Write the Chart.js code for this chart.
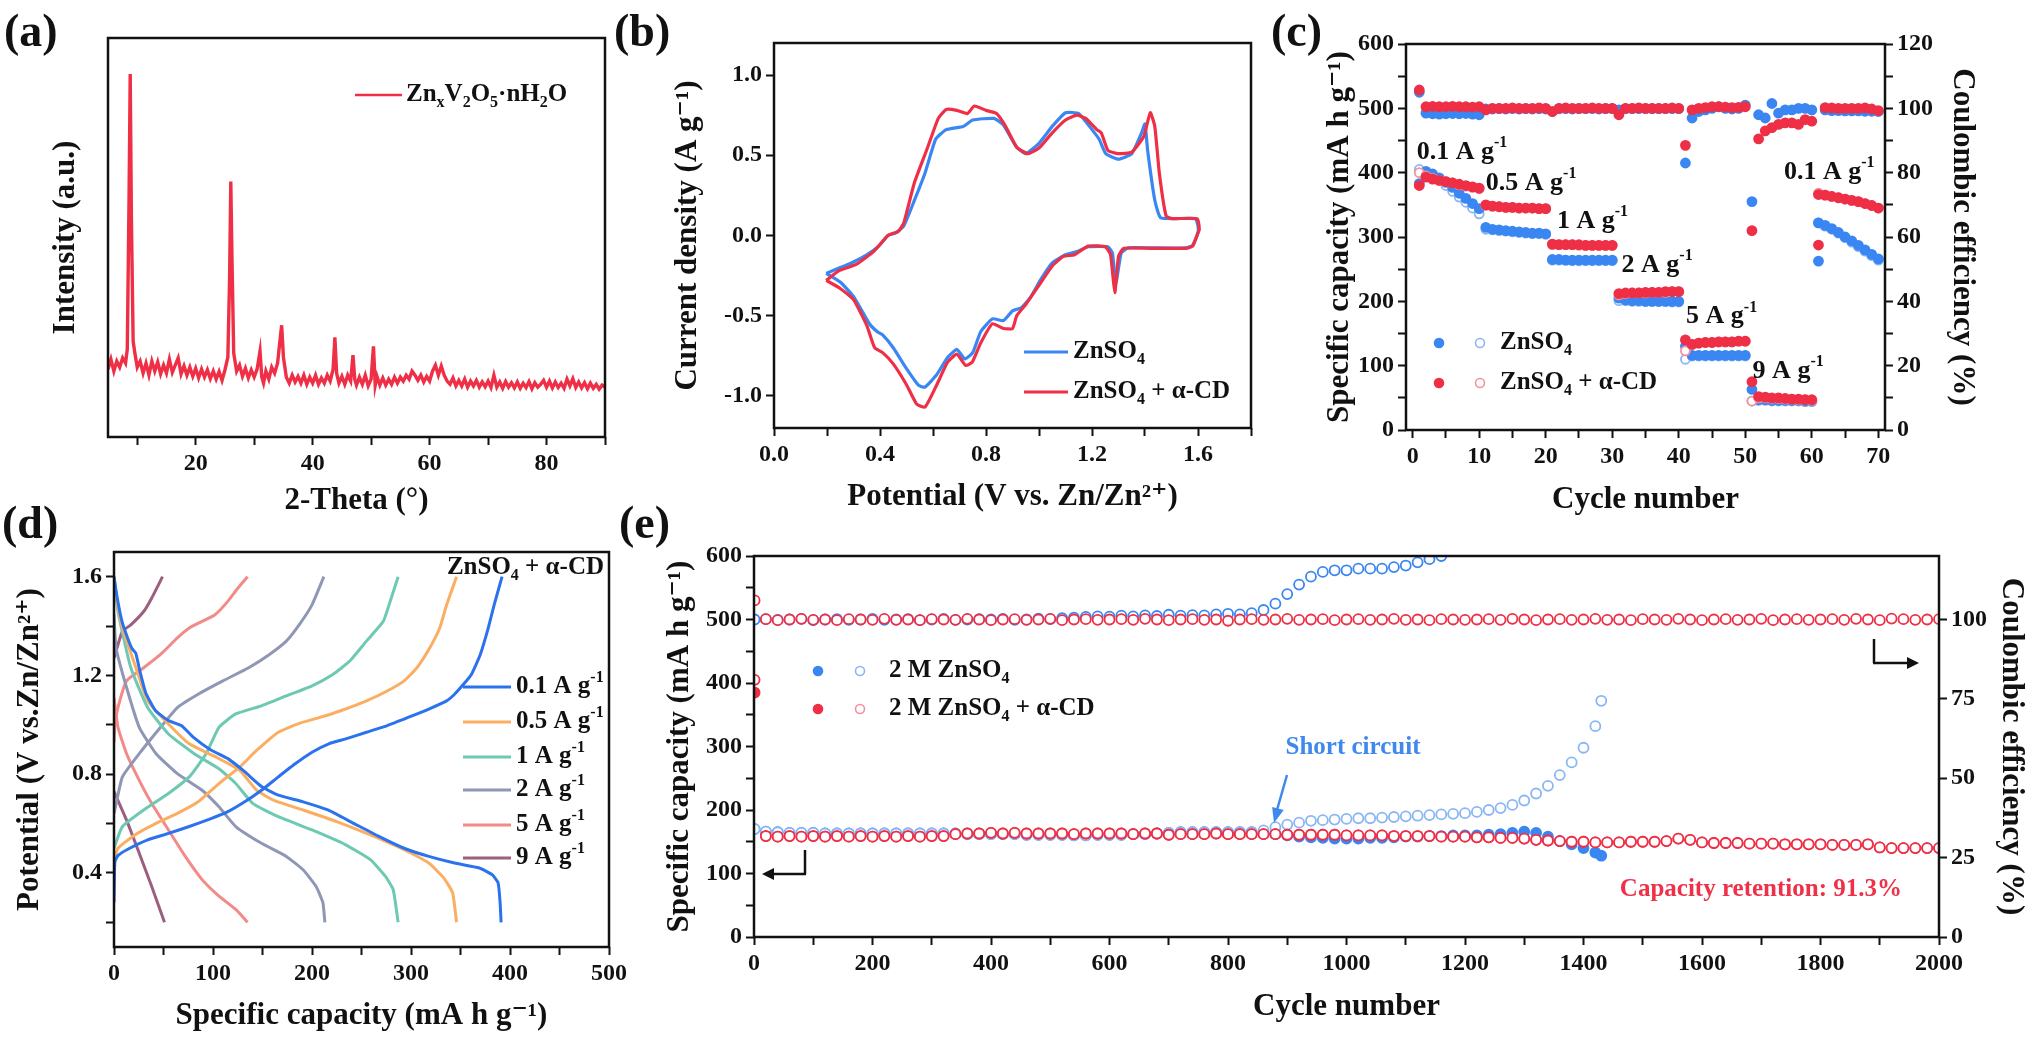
<!DOCTYPE html>
<html>
<head>
<meta charset="utf-8">
<script src="https://cdn.jsdelivr.net/npm/chart.js@4.4.1/dist/chart.umd.min.js"></script>
<style>
  body { margin: 0; background: #fff; }
  #fig { position: relative; width: 2032px; height: 1037px; overflow: hidden; background: #fff; }
  #fig canvas { position: absolute; }
  .tag { position: absolute; font: bold 46px "Liberation Serif", "Times New Roman", serif; line-height: 1; color: #111; }
</style>
</head>
<body>
<div id="fig">
  <canvas id="ca" width="640" height="520" style="left:0;top:0"></canvas>
  <canvas id="cb" width="660" height="520" style="left:640px;top:0"></canvas>
  <canvas id="cc" width="732" height="520" style="left:1300px;top:0"></canvas>
  <canvas id="cd" width="660" height="517" style="left:0;top:520px"></canvas>
  <canvas id="ce" width="1372" height="517" style="left:660px;top:520px"></canvas>
  <div class="tag" style="left:4px;top:8px">(a)</div>
  <div class="tag" style="left:614px;top:8px">(b)</div>
  <div class="tag" style="left:1271px;top:8px">(c)</div>
  <div class="tag" style="left:2px;top:500px">(d)</div>
  <div class="tag" style="left:619px;top:500px">(e)</div>
</div>
<script>
// ---- (a) XRD scan: [2theta, intensity a.u.] ----
const xrdScan = [[5,17],[5.5,19.5],[6,16.5],[6.5,19],[7,17.5],[7.5,19.8],[8,18.5],[8.3,22],[8.6,60],[8.8,91],[9,55],[9.3,24],[9.6,21],
  [10,17.5],[10.5,19],[11,16],[11.5,18.5],[12,15.5],[12.5,19],[13,16.5],[13.5,18.8],[14,15.8],[14.5,18],[15,16],[15.5,19.5],
  [16,16.2],[16.5,18],[17,19.8],[17.5,15.8],[18,17.8],[18.5,15.5],[19,17.5],[19.5,15.2],[20,17.2],[20.5,14.8],[21,17],[21.5,15],
  [22,16.8],[22.5,14.6],[23,16.5],[23.5,14.5],[24,16.4],[24.5,14.2],[25,16.8],[25.5,20],[25.8,40],[26,64],[26.2,45],[26.5,21],
  [27,16.5],[27.5,18],[28,15.2],[28.5,17.2],[29,14.8],[29.5,16.8],[30,15],[30.5,17],[31,21.5],[31.3,15],[31.6,13.5],[32,16.5],
  [32.5,14.5],[33,17.5],[33.5,16],[34,18.5],[34.4,24],[34.7,28],[35,20],[35.5,15],[36,13.5],[36.5,15.5],[37,13.8],[37.5,15.2],
  [38,13.5],[38.5,15.5],[39,13.2],[39.5,15],[40,13.5],[40.5,15.5],[41,13.2],[41.5,14.8],[42,13.5],[42.5,15.5],[43,14],[43.5,17],
  [43.8,25],[44.1,16],[44.5,13.5],[45,15.2],[45.5,13.2],[46,15.5],[46.5,14],[46.9,20.5],[47.2,14.5],[47.5,13],[48,15],[48.5,13.2],
  [49,15.5],[49.5,12.8],[50,14.5],[50.4,22.7],[50.7,13],[51,15.2],[51.5,13],[52,14.8],[52.5,13],[53,14.5],[53.5,13.2],[54,15],
  [54.5,13.5],[55,15],[55.5,14],[56,15.5],[56.5,14.5],[57,16.5],[57.5,15.5],[58,14.2],[58.5,15.5],[59,13.8],[59.5,15.2],[60,14],
  [60.5,16.5],[61,18],[61.5,15.5],[62,17.8],[62.5,15.5],[63,14],[63.5,13.2],[64,14.8],[64.5,12.8],[65,14.2],[65.5,12.8],[66,14.5],
  [66.5,12.5],[67,14],[67.5,12.8],[68,14.2],[68.5,12.5],[69,13.8],[69.5,12.6],[70,14],[70.5,12.4],[71,15.5],[71.5,12.5],[72,13.8],
  [72.5,12.2],[73,13.9],[73.5,12.5],[74,13.6],[74.5,12.3],[75,13.8],[75.5,12.2],[76,13.5],[76.5,12.4],[77,13.9],[77.5,12.1],
  [78,13.6],[78.5,12.5],[79,13.2],[79.5,14.2],[80,12.5],[80.5,14],[81,12.3],[81.5,13.8],[82,12.4],[82.5,13.5],[83,12.2],[83.5,14.5],
  [84,12.8],[84.5,14.6],[85,12.4],[85.5,13.8],[86,12.3],[86.5,13.6],[87,12.1],[87.5,13.5],[88,12.2],[88.5,13.2],[89,12],[89.5,13],[90,12.5]];

// ---- (b) CV loops: [potential V, current A/g] ----
const cvZnSO4 = [[0.197,-0.236],[0.25,-0.2],[0.294,-0.17],[0.35,-0.12],[0.395,-0.066],[0.43,0],[0.46,0.017],[0.49,0.06],[0.53,0.22],
  [0.57,0.39],[0.61,0.6],[0.65,0.66],[0.714,0.68],[0.75,0.72],[0.83,0.73],[0.865,0.69],[0.916,0.55],[0.95,0.51],[1.0,0.575],[1.05,0.68],
  [1.1,0.765],[1.15,0.76],[1.2,0.66],[1.227,0.6],[1.252,0.51],[1.3,0.476],[1.35,0.51],[1.387,0.64],[1.4,0.695],[1.41,0.53],[1.437,0.22],
  [1.46,0.11],[1.59,0.105],[1.6,0.06],[1.6,0.017],[1.58,-0.06],[1.555,-0.077],[1.42,-0.077],[1.336,-0.077],[1.31,-0.11],[1.29,-0.3],
  [1.277,-0.11],[1.26,-0.07],[1.185,-0.07],[1.143,-0.1],[1.1,-0.12],[1.05,-0.17],[1.008,-0.27],[0.966,-0.39],[0.933,-0.45],[0.9,-0.47],
  [0.866,-0.53],[0.824,-0.52],[0.78,-0.6],[0.75,-0.73],[0.72,-0.77],[0.69,-0.71],[0.655,-0.76],[0.613,-0.87],[0.57,-0.945],[0.546,-0.935],
  [0.5,-0.83],[0.45,-0.7],[0.41,-0.62],[0.39,-0.6],[0.36,-0.55],[0.3,-0.38],[0.25,-0.29],[0.197,-0.236]];
const cvZnSO4CD = [[0.197,-0.28],[0.244,-0.22],[0.31,-0.18],[0.378,-0.097],[0.43,0],[0.47,0.027],[0.49,0.08],[0.53,0.33],[0.58,0.55],
  [0.62,0.73],[0.65,0.786],[0.69,0.78],[0.73,0.76],[0.756,0.807],[0.8,0.78],[0.84,0.76],[0.874,0.68],[0.916,0.55],[0.958,0.51],[1.0,0.545],
  [1.05,0.64],[1.1,0.72],[1.143,0.75],[1.176,0.73],[1.218,0.66],[1.235,0.64],[1.26,0.53],[1.3,0.51],[1.35,0.52],[1.395,0.617],[1.42,0.766],
  [1.437,0.68],[1.454,0.39],[1.48,0.12],[1.504,0.105],[1.597,0.105],[1.605,0.037],[1.6,0.017],[1.58,-0.066],[1.555,-0.08],[1.42,-0.08],
  [1.32,-0.08],[1.3,-0.13],[1.286,-0.356],[1.27,-0.12],[1.25,-0.07],[1.185,-0.066],[1.134,-0.12],[1.092,-0.13],[1.05,-0.19],[1.0,-0.31],
  [0.95,-0.43],[0.916,-0.5],[0.9,-0.58],[0.866,-0.58],[0.824,-0.55],[0.78,-0.67],[0.748,-0.79],[0.723,-0.81],[0.69,-0.74],[0.655,-0.79],
  [0.613,-0.935],[0.57,-1.07],[0.538,-1.05],[0.5,-0.93],[0.45,-0.8],[0.41,-0.73],[0.38,-0.7],[0.35,-0.56],[0.3,-0.4],[0.25,-0.33],[0.197,-0.28]];

// ---- (c) rate test ----
const rateCycles = [1,2,3,4,5,6,7,8,9,10,11,12,13,14,15,16,17,18,19,20,21,22,23,24,25,26,27,28,29,30,31,32,33,34,35,
  36,37,38,39,40,41,42,43,44,45,46,47,48,49,50,51,52,53,54,55,56,57,58,59,60,61,62,63,64,65,66,67,68,69,70];
const rateBlueDis = [383,402,398,392,385,377,368,360,352,344, 315,312,311,310,309,308,307,306,306,305,
  265,265,264,264,264,264,264,264,264,264, 205,202,201,201,200,200,200,200,200,200,
  130,116,116,116,116,116,116,116,116,116, 63,47,47,46,46,46,46,46,45,45, 322,318,313,307,300,294,287,280,273,266];
const rateBlueCha = [405,400,396,389,380,371,362,354,345,336, 312,311,310,309,308,307,306,305,305,304,
  264,264,264,263,263,263,263,263,263,263, 201,201,200,200,200,200,200,200,199,199,
  110,115,115,115,115,115,115,115,115,115, 45,46,46,45,45,45,45,45,44,44, 322,317,312,306,299,292,285,278,271,264];
const rateBlueCE = [105,98.5,98.3,98.2,98.3,98.4,98.3,98.4,98.2,98, 99.8,99.8,99.9,99.8,99.9,99.8,99.9,99.8,99.9,99.8,
  99,99.9,99.9,99.8,99.9,99.9,99.9,99.8,99.9,99.9, 99.5,99.9,99.9,99.9,99.9,99.9,99.9,99.9,99.9,99.9,
  83,97,99,99.5,100,100.5,100,99.8,100,101, 71,98,97,101.5,98.5,99.5,99.5,100,100,99.5,
  52.5,99.5,99.3,99.3,99.2,99.2,99.2,99.1,99.1,99];
const rateRedDis = [380,393,390,388,386,384,382,380,378,376, 350,348,347,346,346,345,345,345,344,344,
  289,288,288,288,288,287,287,287,287,287, 212,213,213,213,214,214,214,215,215,215,
  140,133,135,136,136,137,137,137,138,138, 75,52,51,50,50,49,48,48,47,47, 366,365,363,361,359,357,355,352,349,345];
const rateRedCha = [400,395,391,388,386,384,381,379,377,375, 349,348,347,346,346,345,345,345,344,344,
  288,288,288,288,287,287,287,287,287,287, 210,212,213,213,213,214,214,214,215,215,
  123,133,135,136,136,137,137,137,138,138, 45,50,50,49,49,48,48,47,47,46, 368,365,363,361,359,357,355,352,349,345];
const rateRedCE = [105.7,100.5,100.6,100.5,100.5,100.6,100.5,100.5,100.4,100.5, 99.5,100,100,100,100.1,100,100,100,100.1,100,
  99,100,100.1,100,100,100,100.1,100,100,100, 98,100,100,100.1,100,100,100,100,100.1,100,
  88.5,99.5,100,100.2,100.5,100.5,100.4,100.2,100.3,100.5, 62,90.5,93,94,95,95.5,95.5,95,96.5,96,
  57.5,100.2,100.1,100,100,100,100,100.1,99.8,99.3];
const rateNotes = [['0.1 A g^{-1}', 0.6, 432], ['0.5 A g^{-1}', 11, 383], ['1 A g^{-1}', 21.7, 324], ['2 A g^{-1}', 31.4, 256],
  ['5 A g^{-1}', 41.1, 176], ['9 A g^{-1}', 51.1, 91], ['0.1 A g^{-1}', 55.8, 401]];

// ---- (d) GCD curves, ZnSO4 + a-CD: [capacity mAh/g, potential V] ----
const gcdRates = ['0.1 A g^{-1}', '0.5 A g^{-1}', '1 A g^{-1}', '2 A g^{-1}', '5 A g^{-1}', '9 A g^{-1}'];
const gcdColors = ['#2a72ee', '#fbae62', '#6ec9b3', '#9096b6', '#f28a88', '#9b5f80'];
const gcdDischarge = [
  [[0,1.6],[3,1.52],[8,1.42],[13,1.36],[18,1.31],[22,1.29],[26,1.22],[32,1.13],[42,1.057],[55,1.017],[68,0.997],[80,0.95],[97,0.9],
   [115,0.863],[132,0.81],[149,0.75],[166,0.715],[191,0.688],[216,0.655],[242,0.601],[268,0.547],[293,0.5],[318,0.467],[344,0.44],
   [369,0.42],[382,0.393],[388,0.36],[390,0.28],[391,0.2]],
  [[0,1.6],[2,1.526],[8.5,1.392],[21,1.245],[34,1.097],[55,1.003],[76,0.923],[106,0.863],[127,0.816],[144,0.735],[161,0.695],
   [191,0.655],[225,0.608],[259,0.554],[293,0.494],[318,0.44],[333,0.38],[342,0.32],[346,0.2]],
  [[0,1.6],[4,1.459],[17,1.231],[34,1.07],[55,0.963],[81,0.883],[106,0.822],[123,0.762],[140,0.682],[166,0.628],[200,0.574],
   [234,0.514],[259,0.454],[274,0.387],[282,0.333],[287,0.2]],
  [[0,1.45],[2,1.312],[12.7,1.151],[25.5,0.99],[42.5,0.883],[64,0.802],[89,0.735],[106,0.668],[123,0.588],[149,0.52],[174,0.467],
   [191,0.413],[204,0.346],[211,0.28],[213,0.2]],
  [[0,1.11],[4,0.99],[12.7,0.883],[25.5,0.775],[38,0.682],[55,0.574],[72,0.467],[89,0.373],[106,0.306],[123,0.252],[135,0.2]],
  [[0,0.73],[12.7,0.614],[25.5,0.48],[38,0.346],[51,0.2]]];
const gcdCharge = [
  [[0,0.28],[0.5,0.4],[1,0.447],[4,0.47],[13,0.494],[34,0.534],[55,0.56],[76,0.588],[98,0.62],[115,0.648],[132,0.688],[149,0.735],
   [166,0.789],[183,0.842],[200,0.889],[217,0.923],[234,0.943],[255,0.97],[276,0.997],[297,1.03],[318,1.064],[336,1.097],[344,1.124],
   [353,1.164],[361,1.204],[370,1.285],[378,1.392],[384,1.486],[392,1.6]],
  [[0,0.45],[4,0.5],[21,0.554],[42,0.6],[64,0.641],[85,0.688],[106,0.762],[127,0.829],[144,0.896],[166,0.97],[187,1.006],[208,1.03],
   [229,1.057],[255,1.097],[276,1.137],[293,1.178],[306,1.231],[319,1.312],[329,1.392],[336,1.486],[346,1.6]],
  [[0,0.5],[8.5,0.588],[30,0.655],[55,0.722],[76,0.789],[93,0.883],[106,0.99],[123,1.044],[149,1.077],[174,1.117],[200,1.158],
   [221,1.204],[238,1.258],[255,1.339],[272,1.419],[280,1.513],[287,1.6]],
  [[0,0.64],[8.5,0.789],[25.5,0.883],[47,0.99],[64,1.07],[85,1.124],[110,1.178],[136,1.231],[157,1.285],[174,1.339],[187,1.405],
   [200,1.486],[212,1.6]],
  [[0,0.93],[1,1.0],[4,1.07],[12.7,1.178],[30,1.231],[47,1.285],[64,1.352],[76,1.392],[89,1.419],[102,1.446],[115,1.5],[125,1.553],[135,1.6]],
  [[0,1.27],[8.5,1.379],[17,1.405],[30,1.459],[38,1.513],[49,1.6]]];

// ---- (e) long cycling ----
const longCycles = [1,20,40,60,80,100,120,140,160,180,200,220,240,260,280,300,320,340,360,380,400,
  420,440,460,480,500,520,540,560,580,600,620,640,660,680,700,720,740,760,780,800,
  820,840,860,880,900,920,940,960,980,1000,1020,1040,1060,1080,1100,1120,1140,1160,1180,1200,
  1220,1240,1260,1280,1300,1320,1340,1360,1380,1400,1420,1440,1460,1480,1500,1520,1540,1560,1580,1600,
  1620,1640,1660,1680,1700,1720,1740,1760,1780,1800,1820,1840,1860,1880,1900,1920,1940,1960,1980,2000];
const longRedDis = [385,
  159,158,159,158,159,158,159,158,159,158, 159,158,159,158,159,159,162,163,163,164,
  163,164,163,163,163,163,162,163,163,163, 163,162,163,163,161,162,162,162,163,162,
  162,162,162,162,161,161,161,161,161,160, 160,160,160,159,159,159,159,158,158,158,
  157,157,156,156,155,153,152,151,150,150, 149,149,149,150,150,150,151,155,153,149,
  148,148,148,147,147,147,146,146,146,146, 145,145,145,146,141,140,140,140,140,140];
const longRedCha = [405].concat(longRedDis.slice(1));
const longRedCE = [106,
  100.1,99.8,100,100.2,99.9,100,99.8,100.1,100,99.9, 100.2,99.9,100,99.8,100.1,100,99.9,100.2,100,99.8,
  100,100.1,99.9,100,100.2,99.8,100,100.1,99.9,100, 100.1,99.9,100.2,100,99.8,100,100.1,99.9,100,99.6,
  100,100.1,99.9,100,100.2,99.9,100,100.1,99.8,100, 100.1,99.9,100,100.2,99.9,100,99.8,100.1,100,99.9,
  100,100.1,99.9,100.2,100,99.8,100,100.1,99.9,100, 100.2,99.9,100,99.8,100.1,100,99.9,100.2,100,99.8,
  100,100.1,99.9,100,100.2,99.8,100,100.1,99.9,100, 100.1,99.9,100.2,100,99.8,100.3,100.1,99.9,100,100.1];
const blueCycles = [1,20,40,60,80,100,120,140,160,180,200,220,240,260,280,300,320,340,360,380,400,
  420,440,460,480,500,520,540,560,580,600,620,640,660,680,700,720,740,760,780,800,
  820,840,860,880,900,920,940,960,980,1000,1020,1040,1060,1080,1100,1120,1140,1160,1180,1200,
  1220,1240,1260,1280,1300,1320,1340,1360,1380,1400,1420,1430];
const longBlueDis = [170,
  166,165,164,164,164,163,163,163,163,163, 163,163,163,163,163,163,163,162,162,162,
  162,162,161,161,161,161,160,160,161,161, 161,162,162,163,164,165,165,165,165,165,
  165,165,164,162,160,158,157,156,155,155, 155,156,156,157,158,158,159,159,160,160,
  160,161,162,164,166,164,158,151,146,140, 133,128];
const longBlueCha = [170,
  166,165,164,164,164,163,163,163,163,163, 163,163,163,163,163,163,163,162,162,162,
  162,162,161,161,161,161,160,160,161,161, 161,162,162,163,164,165,165,165,165,165,
  165,165,168,173,177,180,183,184,185,186, 187,187,188,189,190,191,192,193,194,195,
  197,200,203,208,215,226,238,255,275,298, 332,372];
const longBlueCE = [100,
  100.1,99.9,100,100.2,99.8,100,100.1,99.9,100,100.2, 99.9,100,100.1,99.8,100,100.2,99.9,100,100.1,100,
  100.2,99.9,100,100.3,100.1,100.4,100.6,100.8,101,100.9, 101.2,101,101.3,101.1,101.5,101.2,101.4,101.3,101.6,101.8,
  101.6,102,103,105,108,111,113.5,115,115.5,115.5, 116,116,116,116.5,117,118,119,120];

// ---- tick values ----
const xrdTicks = [10,20,30,40,50,60,70,80,90], xrdLabels = [20,40,60,80];
const cvXTicks = [0,0.2,0.4,0.6,0.8,1,1.2,1.4,1.6,1.8], cvXLabels = [0,0.4,0.8,1.2,1.6];
const cvYTicks = [-1,-0.5,0,0.5,1];
const rateXTicks = [0,5,10,15,20,25,30,35,40,45,50,55,60,65,70], rateXLabels = [0,10,20,30,40,50,60,70];
const capTicks = [0,50,100,150,200,250,300,350,400,450,500,550,600], capLabels = [0,100,200,300,400,500,600];
const ceTicks = [0,10,20,30,40,50,60,70,80,90,100,110,120], ceLabels = [0,20,40,60,80,100,120];
const gcdXTicks = [0,50,100,150,200,250,300,350,400,450,500], gcdXLabels = [0,100,200,300,400,500];
const gcdYTicks = [0.2,0.4,0.6,0.8,1,1.2,1.4,1.6], gcdYLabels = [0.4,0.8,1.2,1.6];
const longXTicks = [0,100,200,300,400,500,600,700,800,900,1000,1100,1200,1300,1400,1500,1600,1700,1800,1900,2000];
const longXLabels = [0,200,400,600,800,1000,1200,1400,1600,1800,2000];
const longCETicks = [0,25,50,75,100];

const FONT = '"Liberation Serif", "Times New Roman", "DejaVu Serif", serif';
const RED = '#ee2f46', BLUE = '#3a86f2', RED_LT = '#f4919e', BLUE_LT = '#8ab6f4', INK = '#111';
Chart.defaults.font.family = FONT;
Chart.defaults.font.weight = 'bold';
Chart.defaults.color = INK;

Chart.register({
  id: 'frame',
  afterDatasetsDraw(chart) {
    const { ctx, chartArea: a } = chart;
    ctx.save();
    ctx.lineWidth = 2.5; ctx.strokeStyle = INK;
    ctx.strokeRect(a.left, a.top, a.right - a.left, a.bottom - a.top);
    ctx.restore();
  }
});

const pts = (xs, ys) => ys.map((y, i) => ({ x: xs[i], y }));
const fix1 = v => v.toFixed(1);

function axis(o) {
  const a = {
    type: 'linear', min: o.min, max: o.max,
    border: { display: false },
    grid: { display: !o.bare, drawOnChartArea: false, tickLength: 8, tickWidth: 2, tickColor: INK },
    ticks: {
      display: !o.bare, autoSkip: false, maxRotation: 0, padding: 4,
      font: { size: 24, weight: 'bold' },
      callback: v => (o.labels || []).includes(v) ? (o.fmt ? o.fmt(v) : String(v)) : ''
    },
    title: { display: true, text: o.title, color: INK, font: { size: 31, weight: 'bold' }, padding: o.tpad },
    afterBuildTicks: s => { if (o.ticks) s.ticks = o.ticks.map(v => ({ value: v })); },
    afterFit: s => { if (o.width) s.width = o.width; if (o.height) s.height = o.height; }
  };
  if (o.position) a.position = o.position;
  return a;
}

function makeChart(id, pad, scales, datasets, draw) {
  return new Chart(document.getElementById(id), {
    type: 'scatter',
    data: { datasets },
    options: {
      responsive: false, animation: false, events: [],
      layout: { padding: pad },
      plugins: { legend: { display: false }, tooltip: { enabled: false } },
      scales
    },
    plugins: [{ id: 'notes', afterDraw: c => draw(c.ctx, c) }]
  });
}

// rich text: _x / _{..} subscript, ^{..} superscript
function drawRich(ctx, text, x, y, size, color, align) {
  const parts = [];
  let cur = '', i = 0;
  while (i < text.length) {
    const ch = text[i];
    if (ch === '_' || ch === '^') {
      if (cur) { parts.push({ t: cur, k: 0 }); cur = ''; }
      let s;
      if (text[i + 1] === '{') { const j = text.indexOf('}', i); s = text.slice(i + 2, j); i = j + 1; }
      else { s = text[i + 1]; i += 2; }
      parts.push({ t: s, k: ch === '_' ? 1 : -1 });
    } else { cur += ch; i++; }
  }
  if (cur) parts.push({ t: cur, k: 0 });
  const fontOf = k => `bold ${k ? Math.round(size * 0.62) : size}px ${FONT}`;
  let w = 0;
  parts.forEach(p => { ctx.font = fontOf(p.k); p.w = ctx.measureText(p.t).width; w += p.w; });
  let cx = align === 'right' ? x - w : align === 'center' ? x - w / 2 : x;
  ctx.save();
  ctx.fillStyle = color; ctx.textBaseline = 'middle'; ctx.textAlign = 'left';
  parts.forEach(p => {
    ctx.font = fontOf(p.k);
    const dy = p.k > 0 ? size * 0.3 : p.k < 0 ? -size * 0.36 : 0;
    ctx.fillText(p.t, cx, y + dy);
    cx += p.w;
  });
  ctx.restore();
}
function seg(ctx, x1, y1, x2, y2, color, w) {
  ctx.save(); ctx.strokeStyle = color; ctx.lineWidth = w;
  ctx.beginPath(); ctx.moveTo(x1, y1); ctx.lineTo(x2, y2); ctx.stroke(); ctx.restore();
}
function head(ctx, x1, y1, x2, y2, color, len, wid) {
  const ang = Math.atan2(y2 - y1, x2 - x1);
  ctx.save(); ctx.fillStyle = color; ctx.beginPath();
  ctx.moveTo(x2, y2);
  ctx.lineTo(x2 - len * Math.cos(ang) + wid * Math.sin(ang), y2 - len * Math.sin(ang) - wid * Math.cos(ang));
  ctx.lineTo(x2 - len * Math.cos(ang) - wid * Math.sin(ang), y2 - len * Math.sin(ang) + wid * Math.cos(ang));
  ctx.closePath(); ctx.fill(); ctx.restore();
}
function dot(ctx, x, y, r, fill, stroke, w) {
  ctx.save(); ctx.beginPath(); ctx.arc(x, y, r, 0, Math.PI * 2);
  ctx.fillStyle = fill; ctx.fill(); ctx.lineWidth = w; ctx.strokeStyle = stroke; ctx.stroke(); ctx.restore();
}
const lineSet = (data, color, w) => ({ data, showLine: true, borderColor: color, borderWidth: w, pointRadius: 0, tension: 0.15, fill: false });
const markSet = (data, fill, stroke, axisId, r) => ({
  data, yAxisID: axisId || 'y', pointRadius: r || 4.5, pointBorderWidth: 1.8,
  backgroundColor: fill, borderColor: stroke, pointBackgroundColor: fill, pointBorderColor: stroke
});

// (a) XRD
makeChart('ca', { top: 38, right: 35, left: 0, bottom: 0 }, {
  x: axis({ min: 5, max: 90, ticks: xrdTicks, labels: xrdLabels, height: 83, title: '2-Theta (°)', tpad: { top: 0, bottom: 0 } }),
  y: axis({ min: 0, max: 100, bare: true, width: 108, title: 'Intensity (a.u.)', tpad: { top: 47, bottom: 0 } })
}, [Object.assign(lineSet(xrdScan, RED, 3.4), { tension: 0 })], ctx => {
  seg(ctx, 355, 95, 402, 95, RED, 2.5);
  drawRich(ctx, 'Zn_xV_2O_5·nH_2O', 406, 95, 25, INK);
});

// (b) CV
makeChart('cb', { top: 43, right: 49, left: 0, bottom: 0 }, {
  x: axis({ min: 0, max: 1.8, ticks: cvXTicks, labels: cvXLabels, fmt: fix1, height: 92, title: 'Potential (V vs. Zn/Zn²⁺)', tpad: { top: 0, bottom: 4 } }),
  y: axis({ min: -1.2, max: 1.2, ticks: cvYTicks, labels: cvYTicks, fmt: fix1, width: 134, title: 'Current density (A g⁻¹)', tpad: { top: 29, bottom: 0 } })
}, [lineSet(cvZnSO4CD, RED, 3.2), lineSet(cvZnSO4, BLUE, 3.2)], ctx => {
  seg(ctx, 384, 352, 428, 352, BLUE, 3);
  drawRich(ctx, 'ZnSO_4', 433, 352, 25, INK);
  seg(ctx, 384, 392, 428, 392, RED, 3);
  drawRich(ctx, 'ZnSO_4 + α-CD', 433, 392, 25, INK);
});

// (c) rate performance
makeChart('cc', { top: 44, right: 0, left: 0, bottom: 0 }, {
  x: axis({ min: -1, max: 71, ticks: rateXTicks, labels: rateXLabels, height: 90, title: 'Cycle number', tpad: { top: 0, bottom: 1 } }),
  y: axis({ min: 0, max: 600, ticks: capTicks, labels: capLabels, width: 106, title: 'Specific capacity (mA h g⁻¹)', tpad: { top: 21, bottom: 0 } }),
  y2: axis({ min: 0, max: 120, ticks: ceTicks, labels: ceLabels, width: 147, position: 'right', title: 'Coulombic efficiency (%)', tpad: { top: 51, bottom: 0 } })
}, [
  markSet(pts(rateCycles, rateRedDis), RED, RED),
  markSet(pts(rateCycles, rateRedCha), '#fff', RED_LT),
  markSet(pts(rateCycles, rateRedCE), RED, RED, 'y2'),
  markSet(pts(rateCycles, rateBlueDis), BLUE, BLUE),
  markSet(pts(rateCycles, rateBlueCha), '#fff', BLUE_LT),
  markSet(pts(rateCycles, rateBlueCE), BLUE, BLUE, 'y2')
], (ctx, c) => {
  const sx = c.scales.x, sy = c.scales.y;
  rateNotes.forEach(([t, x, y]) => drawRich(ctx, t, sx.getPixelForValue(x), sy.getPixelForValue(y), 26, INK));
  dot(ctx, 139, 343, 4.5, BLUE, BLUE, 1.6); dot(ctx, 180, 343, 4.5, '#fff', BLUE_LT, 1.6);
  drawRich(ctx, 'ZnSO_4', 200, 343, 25, INK);
  dot(ctx, 139, 383, 4.5, RED, RED, 1.6); dot(ctx, 180, 383, 4.5, '#fff', RED_LT, 1.6);
  drawRich(ctx, 'ZnSO_4 + α-CD', 200, 383, 25, INK);
});

// (d) GCD profiles
const gcdSets = [];
gcdRates.forEach((r, i) => {
  gcdSets.push(lineSet(gcdDischarge[i], gcdColors[i], 3));
  gcdSets.push(lineSet(gcdCharge[i], gcdColors[i], 3));
});
makeChart('cd', { top: 32, right: 51, left: 0, bottom: 0 }, {
  x: axis({ min: 0, max: 500, ticks: gcdXTicks, labels: gcdXLabels, height: 90, title: 'Specific capacity (mA h g⁻¹)', tpad: { top: 0, bottom: 2 } }),
  y: axis({ min: 0.1, max: 1.7, ticks: gcdYTicks, labels: gcdYLabels, fmt: fix1, width: 114, title: 'Potential (V vs.Zn/Zn²⁺)', tpad: { top: 11, bottom: 0 } })
}, gcdSets, ctx => {
  drawRich(ctx, 'ZnSO_4 + α-CD', 604, 48, 25, INK, 'right');
  const rows = [167, 202, 237, 270, 305, 338];
  gcdRates.forEach((r, i) => {
    seg(ctx, 463, rows[i], 511, rows[i], gcdColors[i], 3);
    drawRich(ctx, r, 516, rows[i], 25, INK);
  });
});

// (e) long-term cycling
makeChart('ce', { top: 36, right: 0, left: 0, bottom: 0 }, {
  x: axis({ min: 0, max: 2000, ticks: longXTicks, labels: longXLabels, height: 100, title: 'Cycle number', tpad: { top: 0, bottom: 11 } }),
  y: axis({ min: 0, max: 600, ticks: capTicks, labels: capLabels, width: 94, title: 'Specific capacity (mA h g⁻¹)', tpad: { top: 1, bottom: 0 } }),
  y2: axis({ min: 0, max: 120, ticks: longCETicks, labels: longCETicks, width: 93, position: 'right', title: 'Coulombic efficiency (%)', tpad: { top: 2, bottom: 0 } })
}, [
  markSet(pts(longCycles, longRedCha), '#fff', RED, 'y', 5),
  markSet(pts(longCycles, longRedDis), RED, RED, 'y', 5),
  markSet(pts(longCycles, longRedCE), '#fff', RED, 'y2', 5),
  markSet(pts(blueCycles, longBlueCha), '#fff', BLUE_LT, 'y', 5),
  markSet(pts(blueCycles, longBlueDis), BLUE, BLUE, 'y', 5),
  markSet(pts(blueCycles, longBlueCE), '#fff', BLUE, 'y2', 5)
], ctx => {
  dot(ctx, 158, 151, 4.5, BLUE, BLUE, 1.6); dot(ctx, 200, 151, 4.5, '#fff', BLUE_LT, 1.6);
  drawRich(ctx, '2 M ZnSO_4', 229, 151, 25, INK);
  dot(ctx, 158, 189, 4.5, RED, RED, 1.6); dot(ctx, 200, 189, 4.5, '#fff', RED_LT, 1.6);
  drawRich(ctx, '2 M ZnSO_4 + α-CD', 229, 189, 25, INK);
  drawRich(ctx, 'Short circuit', 693, 228, 25, '#3f89ee', 'center');
  seg(ctx, 627, 255, 617, 290, '#3f89ee', 2.5);
  head(ctx, 627, 255, 614, 303, '#3f89ee', 15, 6);
  drawRich(ctx, 'Capacity retention: 91.3%', 1242, 370, 25, '#ee3048', 'right');
  seg(ctx, 145, 330, 145, 354, INK, 2.5); seg(ctx, 146, 354, 112, 354, INK, 2.5);
  head(ctx, 146, 354, 102, 354, INK, 12, 6);
  seg(ctx, 1214, 119, 1214, 143, INK, 2.5); seg(ctx, 1213, 143, 1248, 143, INK, 2.5);
  head(ctx, 1213, 143, 1259, 143, INK, 12, 6);
});
</script>
</body>
</html>
